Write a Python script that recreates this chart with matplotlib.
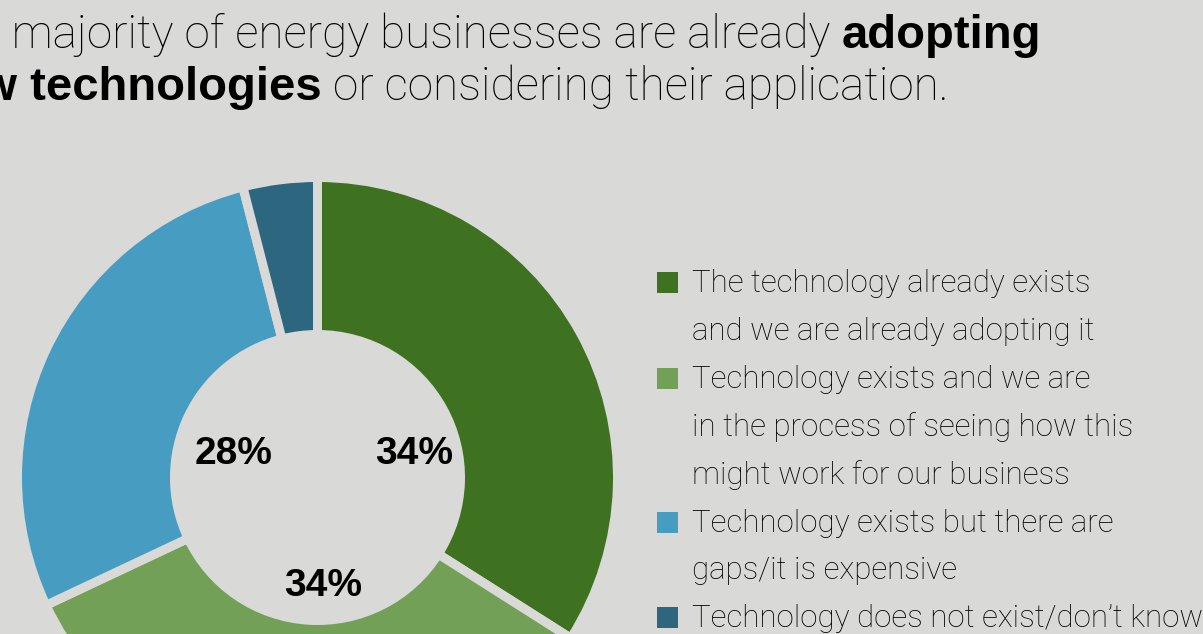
import matplotlib.pyplot as plt
from matplotlib.patches import Rectangle

# Survey: status of new technology adoption in energy businesses
categories = [
    "The technology already exists\nand we are already adopting it",
    "Technology exists and we are\nin the process of seeing how this\nmight work for our business",
    "Technology exists but there are\ngaps/it is expensive",
    "Technology does not exist/don\u2019t know",
]
shares = [34, 34, 28, 4]
colors = ["#3e7120", "#73a057", "#479dc1", "#2d677f"]
shown_pct = [True, True, True, False]

BG = "#d9d9d7"
W, H = 1203, 634
LIGHT = "Roboto"
BOLD = "Liberation Sans"

fig = plt.figure(figsize=(W / 100, H / 100), dpi=100, facecolor=BG)
ax = fig.add_axes([0, 0, 1, 1])
ax.set_facecolor(BG)

# donut, in pixel units (y measured from the top)
cx, cy = 317.5, 477.5
gap = 9
r_out = 295.5 + gap / 2
r_in = 147.5 - gap / 2
ax.pie(shares, colors=colors, startangle=90, counterclock=False,
       radius=r_out, center=(cx, H - cy),
       wedgeprops=dict(width=r_out - r_in, edgecolor=BG, linewidth=gap * 0.72))
ax.set_xlim(0, W)
ax.set_ylim(0, H)
ax.axis("off")

# percentage labels sit inside the hole
pct_offsets = [(97, -23.5), (5.5, 109), (-84, -23.5), (0, 0)]
for val, show, (dx, dy) in zip(shares, shown_pct, pct_offsets):
    if show:
        ax.text(cx + dx, H - (cy + dy), f"{val}%", ha="center", va="center",
                fontsize=28, fontweight="bold", family=BOLD, color="black")

# legend drawn by hand
line0, pitch = 292, 47.9
k = 0
for lab, c in zip(categories, colors):
    base = line0 + pitch * k
    ax.add_patch(Rectangle((657, H - (base + 1)), 21, 21, facecolor=c, edgecolor="none"))
    for ln in lab.split("\n"):
        ax.text(692, H - (line0 + pitch * k), ln, ha="left", va="baseline",
                fontsize=22.5, family=LIGHT, fontweight="light", color="black")
        k += 1

# title with bold runs, measured piece by piece
fig.canvas.draw()
renderer = fig.canvas.get_renderer()


def width_of(s, **kw):
    t = ax.text(0, 0, s, **kw)
    w = t.get_window_extent(renderer).width
    t.remove()
    return w


light_kw = dict(fontsize=33, family=LIGHT, fontweight="light", color="black")
bold_kw = dict(fontsize=34, family=BOLD, fontweight="bold", color="black")


def run(pieces, x, y):
    for s, kw in pieces:
        t = ax.text(x, H - y, s, ha="left", va="baseline", **kw)
        x += t.get_window_extent(renderer).width


run([("The majority of energy businesses are already ", light_kw), ("adopting", bold_kw)],
    12 - width_of("The ", **light_kw), 48)
run([("new technologies", bold_kw), (" or considering their application.", light_kw)],
    322 - width_of("new technologies", **bold_kw), 100)

fig.savefig("out.png", dpi=100, facecolor=BG)
